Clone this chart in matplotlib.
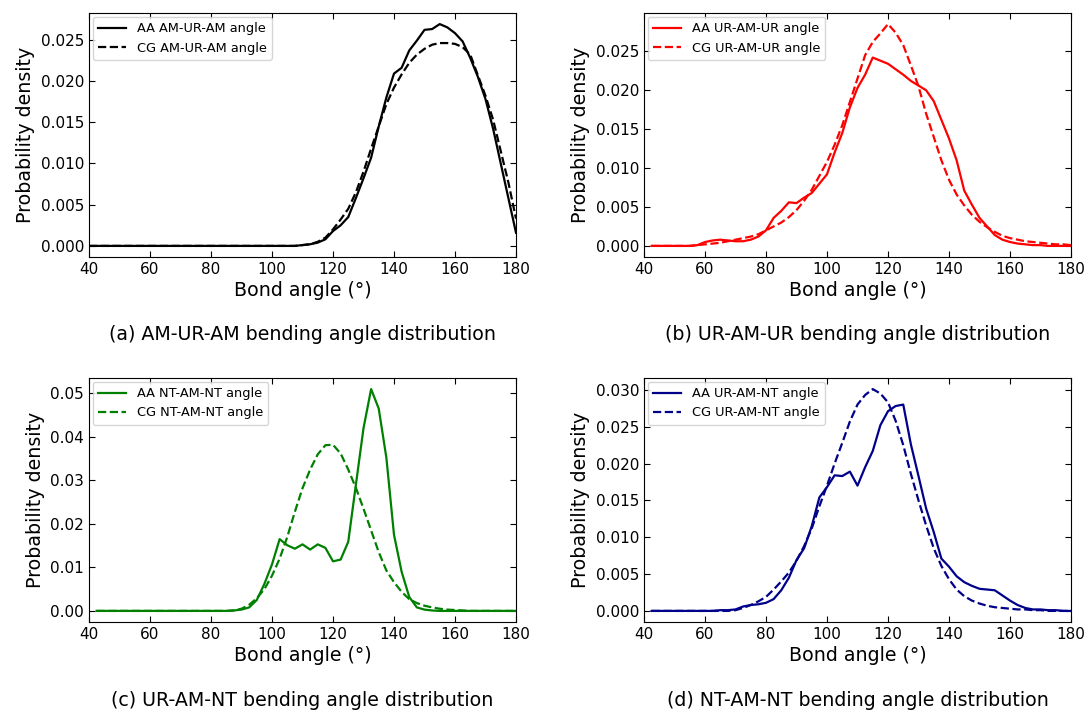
import numpy as np
import matplotlib
matplotlib.use("Agg")
import matplotlib.pyplot as plt

# ---------------- data ----------------
angles_a = np.arange(40, 180.01, 2.5)
aa_amuram = [0]*28 + [0.0001, 0.0002, 0.0004, 0.0008, 0.0018, 0.0025, 0.0035, 0.0058, 0.0082,
                      0.0107, 0.0145, 0.0180, 0.0209, 0.0216, 0.0237, 0.0249, 0.0262, 0.0263,
                      0.0269, 0.0265, 0.0258, 0.0248, 0.0228, 0.0205, 0.0178, 0.0142, 0.0100,
                      0.0058, 0.0016]
cg_amuram = [0]*28 + [0.0001, 0.0002, 0.0005, 0.0010, 0.0020, 0.0032, 0.0045, 0.0065, 0.0090,
                      0.0118, 0.0145, 0.0172, 0.0192, 0.0208, 0.0222, 0.0232, 0.0239, 0.0244,
                      0.0246, 0.0246, 0.0245, 0.0241, 0.0232, 0.0207, 0.0182, 0.0153, 0.0115,
                      0.0077, 0.0033]

angles_b = np.arange(42.5, 180.01, 2.5)
aa_uramur = [0, 0, 0, 0, 0, 0, 0.0001, 0.0005, 0.0007, 0.0008, 0.0007, 0.0006, 0.0006, 0.0008,
             0.0012, 0.0020, 0.0036, 0.0045, 0.0056, 0.0055, 0.0062, 0.0068, 0.0080, 0.0092,
             0.0120, 0.0145, 0.0178, 0.0203, 0.0220, 0.0242, 0.0238, 0.0234, 0.0227, 0.0220,
             0.0212, 0.0206, 0.0200, 0.0186, 0.0162, 0.0138, 0.0110, 0.0071, 0.0053, 0.0036,
             0.0025, 0.0014, 0.0008, 0.0005, 0.0003, 0.0002, 0.0001, 0.0001, 0, 0, 0, 0]
cg_uramur = [0, 0, 0, 0, 0, 0, 0.0001, 0.0002, 0.0003, 0.0004, 0.0006, 0.0008, 0.0010, 0.0012,
             0.0015, 0.0020, 0.0025, 0.0030, 0.0037, 0.0046, 0.0058, 0.0072, 0.0090, 0.0108,
             0.0130, 0.0155, 0.0185, 0.0215, 0.0245, 0.0262, 0.0273, 0.0285, 0.0274, 0.0258,
             0.0232, 0.0205, 0.0170, 0.0140, 0.0110, 0.0085, 0.0066, 0.0052, 0.0040, 0.0031,
             0.0024, 0.0018, 0.0013, 0.0010, 0.0008, 0.0006, 0.0005, 0.0004, 0.0003, 0.0002,
             0.0002, 0.0001]

angles_c = np.arange(42.5, 180.01, 2.5)
aa_ntamnt = [0]*18 + [0.0001, 0.0003, 0.0008, 0.0025, 0.0062, 0.0107, 0.0165, 0.0151, 0.0143,
                      0.0153, 0.0141, 0.0153, 0.0145, 0.0114, 0.0118, 0.0159, 0.0290, 0.0420,
                      0.0510, 0.0465, 0.0352, 0.0175, 0.0090, 0.0032, 0.0008, 0.0003, 0.0001] + [0]*11
cg_ntamnt = [0]*18 + [0.0001, 0.0005, 0.0014, 0.0029, 0.0050, 0.0081, 0.0120, 0.0170, 0.0228,
                      0.0282, 0.0325, 0.0360, 0.0381, 0.0382, 0.0362, 0.0325, 0.0283, 0.0235,
                      0.0185, 0.0135, 0.0093, 0.0066, 0.0044, 0.0027, 0.0018, 0.0012, 0.0008,
                      0.0005, 0.0003, 0.0002, 0.0001] + [0]*7

angles_d = np.arange(42.5, 180.01, 2.5)
aa_uramnt = [0]*9 + [0.0001, 0.0001, 0.0002, 0.0006, 0.0008, 0.0009, 0.0011, 0.0016, 0.0028,
                     0.0045, 0.0069, 0.0085, 0.0115, 0.0154, 0.0168, 0.0184, 0.0183, 0.0189,
                     0.0170, 0.0195, 0.0217, 0.0252, 0.0271, 0.0278, 0.0280, 0.0226, 0.0183,
                     0.0139, 0.0107, 0.0071, 0.0060, 0.0047, 0.0039, 0.0034, 0.0030, 0.0029,
                     0.0028, 0.0021, 0.0014, 0.0008, 0.0004, 0.0002, 0.0002, 0.0001, 0.0001, 0, 0]
cg_uramnt = [0]*11 + [0.0001, 0.0004, 0.0008, 0.0013, 0.0019, 0.0029, 0.0040, 0.0052, 0.0068,
                      0.0088, 0.0112, 0.0142, 0.0170, 0.0200, 0.0228, 0.0257, 0.0280, 0.0293,
                      0.0301, 0.0295, 0.0283, 0.0258, 0.0225, 0.0186, 0.0150, 0.0116, 0.0085,
                      0.0061, 0.0043, 0.0029, 0.0020, 0.0014, 0.0010, 0.0007, 0.0005, 0.0004,
                      0.0003, 0.0002, 0.0002, 0.0001, 0.0001, 0, 0, 0, 0]

panels = [
    (angles_a, aa_amuram, cg_amuram, "black", "AA AM-UR-AM angle", "CG AM-UR-AM angle",
     "(a) AM-UR-AM bending angle distribution"),
    (angles_b, aa_uramur, cg_uramur, "red", "AA UR-AM-UR angle", "CG UR-AM-UR angle",
     "(b) UR-AM-UR bending angle distribution"),
    (angles_c, aa_ntamnt, cg_ntamnt, "green", "AA NT-AM-NT angle", "CG NT-AM-NT angle",
     "(c) UR-AM-NT bending angle distribution"),
    (angles_d, aa_uramnt, cg_uramnt, "darkblue", "AA UR-AM-NT angle", "CG UR-AM-NT angle",
     "(d) NT-AM-NT bending angle distribution"),
]

# ---------------- figure ----------------
W, H = 1088, 712
fig = plt.figure(figsize=(W / 100, H / 100), dpi=100)

boxes = [(89, 13, 516, 257), (644, 13, 1071, 257), (89, 378, 516, 622), (644, 378, 1071, 622)]
caption_y = [335, 335, 700, 700]

for (x, aa, cg, col, la, lc, cap), (l, t, r, b), cy in zip(panels, boxes, caption_y):
    ax = fig.add_axes([l / W, 1 - b / H, (r - l) / W, (b - t) / H])
    ax.plot(x, aa, color=col, lw=1.6, ls="-", label=la)
    ax.plot(x, cg, color=col, lw=1.6, ls="--", label=lc)
    ax.set_xlim(40, 180)
    ax.set_xticks(np.arange(40, 181, 20))
    ax.tick_params(direction="in", top=True, right=True, labelsize=11, length=4)
    ax.set_xlabel("Bond angle (°)", fontsize=13.7, labelpad=3)
    ax.set_ylabel("Probability density", fontsize=13.7, labelpad=4)
    ax.legend(loc="upper left", fontsize=9.3, handlelength=2.2, borderaxespad=0.3)
    fig.text((l + r) / 2 / W, 1 - cy / H, cap, ha="center", va="center", fontsize=13.7)

fig.savefig("out.png", dpi=100)
